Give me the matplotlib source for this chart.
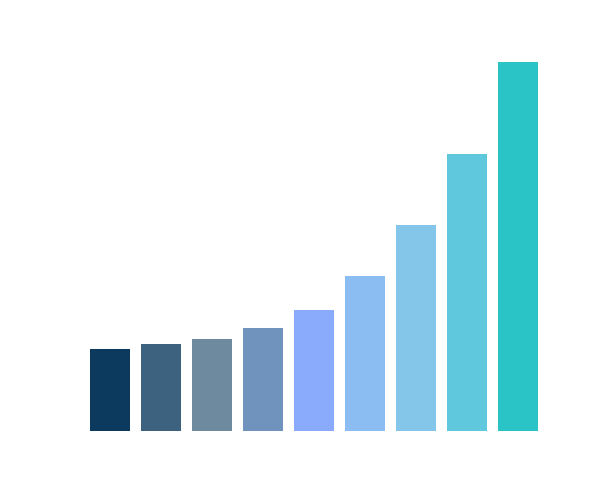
import matplotlib
matplotlib.use("Agg")
import matplotlib.pyplot as plt

values = [82, 87, 92, 103, 121, 155, 206, 277, 369]
colors = ["#0b3a5e", "#3d6280", "#6e8a9e", "#7093be", "#8aabfc",
          "#8bbcf2", "#84c6ea", "#5fc8dc", "#2ac3c6"]

W, H = 606, 489
fig = plt.figure(figsize=(W / 100, H / 100), dpi=100)
ax = fig.add_axes([84.5 / W, (H - 432) / H, 459 / W, 400 / H])
ax.bar(range(len(values)), values, width=40 / 51, color=colors)
ax.set_xlim(-0.5, len(values) - 0.5)
ax.set_ylim(0, 400)
ax.axis("off")
fig.savefig("out.png", dpi=100)
